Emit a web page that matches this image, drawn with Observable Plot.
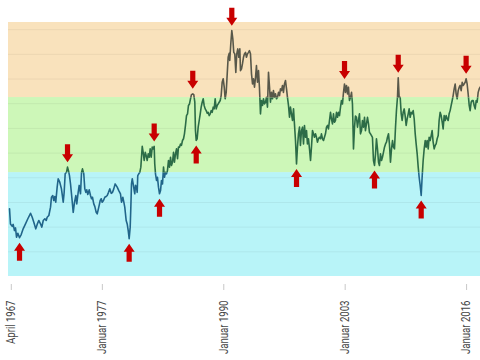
<!DOCTYPE html>
<html><head><meta charset="utf-8">
<script src="https://cdn.jsdelivr.net/npm/d3@7"></script>
<script src="https://cdn.jsdelivr.net/npm/@observablehq/plot@0.6"></script>
<style>
html,body{margin:0;padding:0;background:#fff;}
#chart{width:480px;height:360px;}
</style></head><body><div id="chart"></div>
<script>
// [decimal year, index value]
const series = [
[1967.06,27.4],[1967.16,21.3],[1967.35,20.3],[1967.45,21.1],[1967.59,18.6],[1967.70,19.7],[1967.81,15.9],[1967.95,17.5],[1968.13,15.7],[1968.31,17.0],
[1968.52,19.3],[1968.77,21.3],[1969.02,23.4],[1969.31,25.6],[1969.49,24.0],[1969.66,22.0],[1969.87,19.3],[1970.02,21.1],[1970.19,22.7],[1970.38,21.3],
[1970.52,20.0],[1970.67,22.7],[1970.84,23.4],[1970.99,22.7],[1971.09,24.0],[1971.27,24.7],[1971.45,28.1],[1971.55,32.1],[1971.69,32.8],[1971.80,30.8],
[1971.91,32.4],[1972.01,30.1],[1972.16,36.2],[1972.27,39.6],[1972.44,38.2],[1972.62,35.5],[1972.81,30.1],[1972.91,34.1],[1973.02,41.6],[1973.16,42.2],
[1973.27,44.3],[1973.37,42.9],[1973.48,40.9],[1973.59,37.5],[1973.73,32.1],[1973.88,26.0],[1974.02,30.1],[1974.16,32.8],[1974.26,29.4],[1974.41,34.1],
[1974.52,36.9],[1974.66,33.5],[1974.77,42.2],[1974.87,43.6],[1975.01,41.6],[1975.12,35.5],[1975.23,34.1],[1975.33,35.1],[1975.44,33.2],[1975.59,35.1],
[1975.73,32.8],[1975.84,31.5],[1975.94,32.1],[1976.08,29.4],[1976.19,28.4],[1976.34,26.0],[1976.45,25.4],[1976.55,27.0],[1976.66,28.8],[1976.77,30.8],
[1976.88,31.5],[1976.98,30.1],[1977.12,30.8],[1977.26,32.1],[1977.41,32.4],[1977.52,32.8],[1977.66,34.1],[1977.80,35.5],[1977.95,33.7],[1978.09,34.1],
[1978.22,35.5],[1978.37,37.5],
[1978.59,36.2],[1978.76,34.8],[1978.94,33.5],[1979.05,30.1],[1979.19,32.1],[1979.30,30.1],[1979.40,28.1],[1979.55,22.7],[1979.66,21.3],[1979.77,18.6],
[1979.87,15.3],[1979.98,20.0],[1980.05,28.1],[1980.12,37.5],[1980.20,39.6],[1980.30,37.5],[1980.41,34.8],[1980.47,33.5],[1980.55,36.9],[1980.66,36.2],
[1980.73,34.1],[1980.79,40.9],[1980.90,41.6],[1981.01,42.2],[1981.12,44.3],[1981.19,48.3],[1981.27,52.7],[1981.37,50.3],[1981.48,47.0],[1981.59,50.3],
[1981.69,49.0],[1981.80,47.0],[1981.91,49.7],[1982.02,48.3],[1982.12,51.7],[1982.23,48.3],[1982.34,52.4],[1982.44,51.7],[1982.55,52.7],[1982.61,45.6],
[1982.69,41.6],[1982.80,38.9],[1982.90,40.2],[1983.01,36.2],[1983.12,33.5],[1983.23,34.8],[1983.33,38.9],[1983.44,37.5],[1983.55,44.3],[1983.65,40.2],
[1983.76,42.2],[1983.87,41.6],[1983.97,42.9],[1984.08,47.0],[1984.19,44.3],[1984.30,48.3],[1984.40,45.0],[1984.51,46.3],[1984.62,50.3],[1984.72,46.3],
[1984.83,49.7],[1984.94,51.7],[1985.05,47.7],[1985.15,52.4],[1985.26,52.4],[1985.37,53.7],[1985.47,53.1],[1985.58,55.1],[1985.69,55.8],[1985.79,57.8],
[1985.90,61.2],[1986.01,65.2],[1986.12,65.9],[1986.22,69.3],[1986.33,69.9],[1986.44,72.0],[1986.54,73.7],[1986.68,74.0],[1986.79,73.7],[1986.90,70.6],
[1986.97,59.1],[1987.05,55.1],[1987.15,55.8],[1987.26,60.5],[1987.37,63.2],[1987.48,65.9],[1987.58,68.6],[1987.69,70.6],[1987.80,72.0],[1987.90,69.3],
[1988.01,67.9],[1988.12,67.2],[1988.23,66.1],[1988.33,66.5],[1988.44,65.2],[1988.55,65.9],[1988.65,67.2],[1988.76,66.5],[1988.87,68.6],[1988.97,67.9],
[1989.08,72.0],[1989.19,67.9],[1989.30,69.3],[1989.40,69.9],[1989.51,70.6],[1989.62,71.3],[1989.72,73.3],[1989.83,78.7],[1989.94,80.1],[1990.05,76.7],
[1990.15,72.0],[1990.26,74.6],[1990.37,82.1],[1990.47,88.8],[1990.58,90.4],[1990.64,87.5],[1990.75,94.2],[1990.86,99.6],[1990.97,96.3],[1991.07,90.8],
[1991.18,90.2],[1991.29,82.7],[1991.39,90.2],[1991.50,92.2],[1991.61,88.8],[1991.72,92.2],
[1991.79,83.4],[1991.90,84.1],[1992.00,86.1],[1992.11,88.8],[1992.22,90.2],[1992.33,90.8],[1992.43,88.8],[1992.54,90.2],[1992.65,90.8],[1992.75,91.5],
[1992.86,90.2],[1992.97,82.1],[1993.08,78.0],[1993.18,80.1],[1993.29,76.7],[1993.40,80.7],[1993.50,85.5],[1993.61,78.7],[1993.72,83.4],[1993.82,76.7],
[1993.93,65.9],[1994.04,71.3],[1994.15,69.3],[1994.25,72.0],[1994.36,69.9],[1994.47,70.6],[1994.57,72.6],[1994.68,68.6],[1994.79,82.7],[1994.90,76.7],
[1995.00,70.6],[1995.11,74.6],[1995.22,72.0],[1995.32,75.3],[1995.43,72.6],[1995.54,74.0],[1995.65,72.0],[1995.75,72.6],[1995.86,74.6],[1995.97,73.3],
[1996.07,76.0],[1996.18,75.3],[1996.29,77.4],[1996.39,74.6],[1996.50,78.0],[1996.61,79.4],[1996.72,76.0],[1996.82,72.6],[1996.93,69.3],[1997.04,64.5],
[1997.14,68.6],[1997.25,65.9],[1997.36,63.2],[1997.47,67.9],[1997.57,61.8],[1997.68,55.1],[1997.79,45.6],[1997.89,52.4],[1998.00,57.8],[1998.11,60.5],
[1998.21,53.1],[1998.32,59.1],[1998.43,60.5],[1998.54,53.7],[1998.64,61.2],[1998.75,56.4],[1998.86,59.1],[1998.96,53.7],[1999.07,55.8],[1999.18,51.7],
[1999.29,47.0],[1999.39,52.4],[1999.50,59.1],[1999.61,57.8],[1999.71,56.4],[1999.82,57.8],[1999.93,56.4],[2000.03,54.4],[2000.14,55.8],[2000.25,56.4],
[2000.36,55.8],[2000.46,57.8],[2000.57,55.8],[2000.68,55.1],[2000.78,56.4],[2000.89,57.8],[2001.00,60.5],[2001.11,61.2],[2001.21,59.8],[2001.32,63.2],
[2001.43,66.5],[2001.53,63.9],[2001.64,61.8],[2001.75,65.9],[2001.85,62.5],[2001.96,63.2],[2002.07,66.5],[2002.18,64.5],[2002.28,66.5],[2002.39,65.2],
[2002.50,68.6],[2002.60,71.3],[2002.71,69.9],[2002.82,74.6],[2002.93,78.0],[2003.03,74.6],[2003.14,77.4],[2003.25,74.0],[2003.35,76.7],[2003.46,71.3],
[2003.57,72.6],[2003.68,74.6],[2003.78,69.9],[2003.89,51.7],[2004.00,60.5],[2004.10,65.0],[2004.21,64.5],[2004.32,60.5],[2004.42,63.2],[2004.53,65.9],
[2004.64,57.8],[2004.75,59.1],[2004.85,63.2],[2004.96,60.5],[2005.07,64.5],[2005.17,59.1],[2005.28,61.8],[2005.39,64.5],[2005.50,61.8],[2005.60,58.4],
[2005.71,57.8],[2005.82,57.1],[2005.92,56.4],[2006.03,47.0],[2006.14,45.0],[2006.25,49.7],[2006.35,55.8],[2006.46,51.7],[2006.57,46.3],[2006.67,45.0],
[2006.78,49.7],[2006.89,47.0],[2006.99,48.3],[2007.10,50.3],[2007.21,52.4],[2007.32,53.7],[2007.42,54.4],[2007.53,56.4],[2007.64,57.8],[2007.74,53.7],
[2007.85,46.3],[2007.96,51.7],[2008.07,55.1],[2008.17,52.4],[2008.28,51.7],[2008.39,60.5],[2008.49,67.2],[2008.60,72.6],[2008.68,80.5],[2008.78,72.6],
[2008.89,72.6],[2009.00,65.9],[2009.10,63.2],[2009.21,66.5],[2009.32,67.9],[2009.42,65.2],[2009.53,61.2],[2009.64,63.9],[2009.75,65.9],[2009.85,67.9],
[2009.96,64.5],[2010.07,66.5],[2010.17,65.9],[2010.28,67.2],[2010.39,63.9],[2010.50,57.8],[2010.60,53.7],[2010.71,49.7],[2010.82,44.3],[2010.92,40.2],
[2011.03,36.9],[2011.14,32.8],[2011.24,40.2],[2011.35,47.0],[2011.46,51.7],[2011.57,55.1],[2011.67,52.4],[2011.78,55.1],[2011.89,51.7],[2011.99,56.4],
[2012.10,55.1],[2012.21,57.1],[2012.31,59.1],[2012.42,54.4],[2012.53,51.7],[2012.64,53.1],[2012.74,53.7],[2012.85,55.8],[2012.96,57.1],[2013.06,63.2],
[2013.17,66.5],[2013.28,65.2],[2013.39,62.5],[2013.49,59.8],[2013.60,65.2],[2013.71,63.2],[2013.81,65.2],[2013.92,63.9],[2014.03,63.2],[2014.13,65.9],
[2014.24,67.2],[2014.35,69.3],[2014.46,71.3],[2014.56,73.3],[2014.67,76.0],[2014.78,78.0],[2014.88,74.0],[2014.99,72.0],[2015.10,75.3],[2015.21,76.7],
[2015.31,77.4],[2015.42,75.3],[2015.53,78.7],[2015.63,77.4],[2015.74,78.0],[2015.85,78.7],[2015.95,80.1],[2016.06,78.0],[2016.17,74.0],[2016.28,69.3],
[2016.38,67.2],[2016.49,70.6],[2016.60,71.3],[2016.70,71.3],[2016.81,69.3],[2016.92,67.9],[2017.03,71.3],[2017.13,70.6],[2017.24,74.6],[2017.35,76.0],
[2017.45,76.7]
];

// Turning points marked with arrows
const troughYears  = [1968.13, 1979.87, 1983.12, 1987.05, 1997.79, 2006.14, 2011.14];
const troughValues = [15.7, 15.3, 33.5, 55.1, 45.6, 45.0, 32.8];
const peakYears    = [1973.27, 1982.55, 1986.68, 1990.86, 2002.93, 2008.68, 2015.95];
const peakValues   = [44.3, 52.7, 74.0, 99.6, 78.0, 80.5, 80.1];

// Zones (low / middle / high)
const bandLow  = [0, 42.1, 72.5];
const bandHigh = [42.1, 72.5, 102.9];
const gridValues = [10, 20, 30, 40, 50, 60, 70, 80, 90, 100];

// Axis ticks
const tickYears  = [1967.25, 1977, 1990, 2003, 2016];
const tickLabels = ["April 1967", "Januar 1977", "Januar 1990", "Januar 2003", "Januar 2016"];

// ---- styles ----
const bandFill   = ["#b8f4f8", "#cdf7b8", "#f9e2bc"];
const lineStroke = ["#21658a", "#2c6c47", "#58584a"];
const arrowRed   = "#c80000";
const xDomain = [1966.95, 2017.49];
const yDomain = [-3.24, 102.9];
const labelCondense = 0.8;

const data = series.map(([year, value]) => ({year, value}));
const troughs = troughYears.map((year, i) => ({year, value: troughValues[i]}));
const peaks = peakYears.map((year, i) => ({year, value: peakValues[i]}));

const upArrow = {draw(ctx) {
  ctx.moveTo(0, 5); ctx.lineTo(5.5, 13); ctx.lineTo(2.6, 13); ctx.lineTo(2.6, 23);
  ctx.lineTo(-2.6, 23); ctx.lineTo(-2.6, 13); ctx.lineTo(-5.5, 13); ctx.closePath();
}};
const downArrow = {draw(ctx) {
  ctx.moveTo(0, -5); ctx.lineTo(5.5, -13); ctx.lineTo(2.6, -13); ctx.lineTo(2.6, -23);
  ctx.lineTo(-2.6, -23); ctx.lineTo(-2.6, -13); ctx.lineTo(-5.5, -13); ctx.closePath();
}};

const marks = [];
bandLow.forEach((lo, i) => {
  marks.push(Plot.rect([{lo, hi: bandHigh[i]}], {x1: xDomain[0], x2: xDomain[1], y1: "lo", y2: "hi", fill: bandFill[i]}));
});
marks.push(Plot.ruleY(gridValues, {stroke: "#000", strokeOpacity: 0.055}));
lineStroke.forEach(c => {
  marks.push(Plot.line(data, {x: "year", y: "value", stroke: c, strokeWidth: 1.6}));
});
marks.push(Plot.dot(troughs, {x: "year", y: "value", symbol: upArrow, fill: arrowRed, stroke: "none"}));
marks.push(Plot.dot(peaks, {x: "year", y: "value", symbol: downArrow, fill: arrowRed, stroke: "none"}));
marks.push(Plot.axisX({
  ticks: tickYears,
  tickFormat: d => tickLabels[tickYears.indexOf(d)],
  tickRotate: -90, tickSize: 6, tickPadding: 10,
  stroke: "#c8c8c8", fill: "#444", label: null
}));

const chart = Plot.plot({
  width: 480, height: 360,
  marginTop: 22, marginBottom: 76, marginLeft: 8, marginRight: 0,
  x: {domain: xDomain, label: null},
  y: {domain: yDomain, axis: null},
  style: {fontFamily: 'Roboto, "Liberation Sans", sans-serif', fontSize: "12px", background: "#fff"},
  marks
});

// clip each coloured copy of the line to its zone
const ys = chart.scale("y");
const ns = "http://www.w3.org/2000/svg";
const defs = document.createElementNS(ns, "defs");
chart.insertBefore(defs, chart.firstChild);
chart.querySelectorAll('g[aria-label="line"]').forEach((g, i) => {
  const top = i === 2 ? 0 : ys.apply(bandHigh[i]);
  const bottom = i === 0 ? 360 : ys.apply(bandLow[i]);
  const cp = document.createElementNS(ns, "clipPath");
  cp.setAttribute("id", "zone-clip-" + i);
  const r = document.createElementNS(ns, "rect");
  r.setAttribute("x", 0); r.setAttribute("y", top);
  r.setAttribute("width", 480); r.setAttribute("height", bottom - top);
  cp.appendChild(r); defs.appendChild(cp);
  g.setAttribute("clip-path", `url(#zone-clip-${i})`);
});

document.getElementById("chart").appendChild(chart);

// condensed look for the tick labels
chart.querySelectorAll("text").forEach(t => {
  const len = t.getComputedTextLength();
  if (len > 0) {
    t.setAttribute("textLength", (len * labelCondense).toFixed(1));
    t.setAttribute("lengthAdjust", "spacingAndGlyphs");
  }
});
</script></body></html>
